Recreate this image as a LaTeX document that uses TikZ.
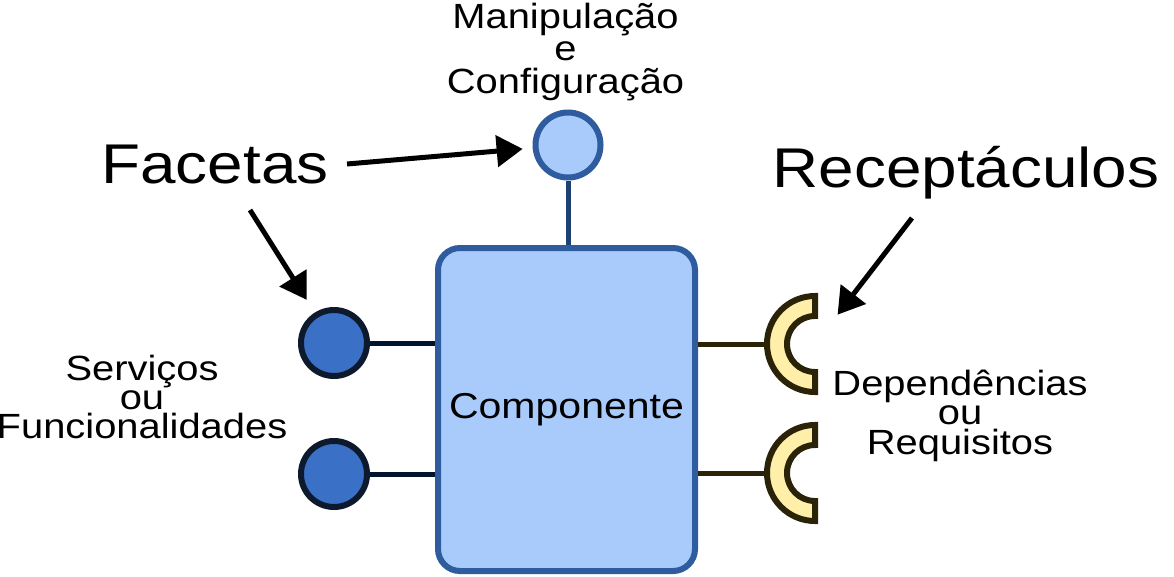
\documentclass[tikz,border=0pt]{standalone}
\usepackage{fontspec}
\setmainfont{Liberation Sans}[FakeStretch=1.14]
\usetikzlibrary{calc,arrows.meta}
\definecolor{compfill}{HTML}{A9CBFB}
\definecolor{compline}{HTML}{2E5C9E}
\definecolor{stemline}{HTML}{1E4174}
\definecolor{facetfill}{HTML}{3A70C6}
\definecolor{facetline}{HTML}{0D1A2E}
\definecolor{wireline}{HTML}{001430}
\definecolor{receptfill}{HTML}{FFEFA8}
\definecolor{receptline}{HTML}{2B2308}
\def\drawpointer{\draw[line width=5pt,-{Triangle[length=26pt,width=31pt]}]}
\def\facetnode{\node[circle,draw=facetline,fill=facetfill,line width=6pt,minimum size=66pt,inner sep=0pt]}
\def\drawrecept#1{\draw[draw=receptline,fill=receptfill,line width=6pt,line join=miter]
  ($(#1)+(0,-48)$) arc[start angle=270,end angle=90,radius=48]
  -- ($(#1)+(0,28)$) arc[start angle=90,end angle=270,radius=28] -- cycle;}

\begin{document}
\begin{tikzpicture}[x=1pt,y=-1pt,inner sep=0pt]
\useasboundingbox (0,0) rectangle (1174,576);
\node[draw=compline,fill=compfill,line width=6pt,rounded corners=22pt,minimum width=257pt,minimum height=323pt,font=\fontsize{36}{40}\selectfont] (comp) at (566.5,409.5) {Componente};
\node[circle,draw=compline,fill=compfill,line width=6pt,minimum size=65pt] (manip) at (568,145) {};
\draw[stemline,line width=5pt] (manip) to (manip |- comp.north);
\facetnode (f1) at (334,343) {};
\facetnode (f2) at (334,474) {};
\draw[wireline,line width=5pt] (f1) to (f1 -| comp.west);
\draw[wireline,line width=5pt] (f2) to (f2 -| comp.west);
\coordinate (r1) at (815,344);
\coordinate (r2) at (815,473);
\coordinate (r1w) at (767,344);
\coordinate (r2w) at (767,473);
\draw[receptline,line width=5pt] (comp.east |- r1) to (r1w);
\draw[receptline,line width=5pt] (comp.east |- r2) to (r2w);
\drawrecept{r1}
\drawrecept{r2}
\node[anchor=base,font=\fontsize{56}{60}\selectfont] (facetas) at (215,183) {Facetas};
\node[anchor=base,font=\fontsize{56}{60}\selectfont] (recept) at (966,187) {Receptáculos};
\node[anchor=base,align=center,font=\fontsize{35}{32.5}\selectfont] (manipnote) at (565.5,93) {Manipulação\\e\\Configuração};
\node[anchor=base,align=center,font=\fontsize{35}{29}\selectfont] (servnote) at (142,438) {Serviços\\ou\\Funcionalidades};
\node[anchor=base,align=center,font=\fontsize{35}{29.5}\selectfont] (depnote) at (960,454) {Dependências\\ou\\Requisitos};
\coordinate (ta) at (347,164);
\coordinate (tb) at (250,210);
\coordinate (tc) at (912,218);
\drawpointer[shorten >=10pt] (ta) to (manip);
\drawpointer[shorten >=15pt] (tb) to (f1);
\drawpointer[shorten >=37pt] (tc) to (r1);
\end{tikzpicture}
\end{document}
